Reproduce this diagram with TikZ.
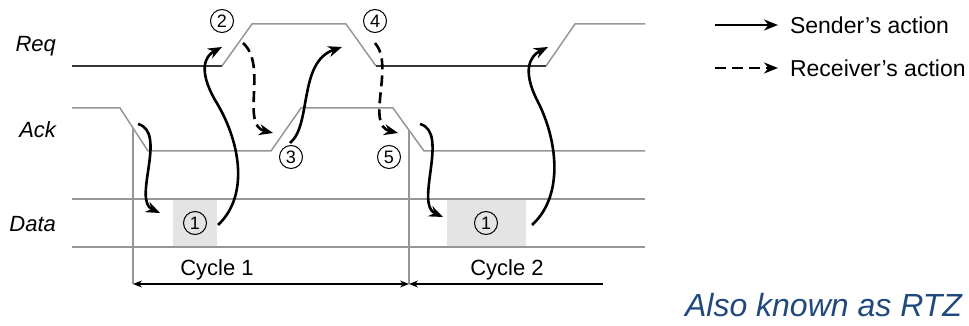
\documentclass[tikz,border=0pt]{standalone}
\usepackage{fontspec}
\setmainfont{Liberation Sans}
\usetikzlibrary{arrows.meta}
\definecolor{sigline}{RGB}{150,150,150}
\definecolor{reqlow}{RGB}{55,55,55}
\definecolor{boxfill}{RGB}{228,228,228}
\definecolor{rtzblue}{RGB}{31,73,125}

\begin{document}
\begin{tikzpicture}[x=0.5pt,y=-0.5pt,>=Stealth,
  sig/.style={sigline,line width=0.75pt},
  act/.style={line width=1.3pt,-{Stealth[length=7pt,width=5.5pt]}},
  rcv/.style={act,dash pattern=on 5.5pt off 3pt},
  num/.style={circle,draw,line width=0.5pt,inner sep=0pt,minimum size=11.5pt,
    font=\fontsize{9}{9}\selectfont},
  lbl/.style={anchor=east,font=\fontsize{11}{13}\selectfont\itshape},
  cyc/.style={line width=0.6pt,{Stealth[length=4.5pt,width=3.5pt]}-{Stealth[length=4.5pt,width=3.5pt]}},
  cycl/.style={line width=0.6pt,{Stealth[length=4.5pt,width=3.5pt]}-}]
  \useasboundingbox (0,0) rectangle (969,326);

  % signal names
  \node[lbl] (req) at (63,46) {Req};
  \node[lbl] (ack) at (63,130) {Ack};
  \node[lbl] (data) at (63,224) {Data};

  % shaded data windows
  \fill[boxfill] (173,199) rectangle (217,247);
  \fill[boxfill] (447,199) rectangle (526,247);

  % waveforms
  \draw[sig] (222,66) -- (252,24) -- (346,24) -- (376,66);
  \draw[sig] (546,66) -- (575,24) -- (645,24);
  \draw[reqlow,line width=0.75pt] (72,66) -- (222,66);
  \draw[reqlow,line width=0.75pt] (376,66) -- (546,66);
  \draw[sig] (72,108) -- (120,108) -- (148,151) -- (271,151) -- (301,108)
    -- (393,108) -- (424,151) -- (645,151);
  \draw[sig] (72,199) -- (645,199);
  \draw[sig] (72,247) -- (645,247);
  \draw[sig] (133,128) -- (133,284);
  \draw[sig] (409,130) -- (409,284);

  % cycles
  \coordinate (c1) at (133,284);
  \coordinate (c2) at (409,284);
  \coordinate (c3) at (603,284);
  \draw[cyc] (c1) -- (c2);
  \draw[cycl] (c2) -- (c3);
  \node[font=\fontsize{11}{13}\selectfont] (cyc1) at (217,270) {Cycle 1};
  \node[font=\fontsize{11}{13}\selectfont] (cyc2) at (507,270) {Cycle 2};

  % event numbers
  \node[num] (n1a) at (195,223) {1};
  \node[num] (n1b) at (486,223) {1};
  \node[num] (n2) at (222,21) {2};
  \node[num] (n4) at (375,21) {4};
  \node[num] (n3) at (291,157) {3};
  \node[num] (n5) at (389,157) {5};

  % action ends
  \coordinate (a1s) at (138,124);  \coordinate (a1e) at (160,213);
  \coordinate (a2s) at (218,225);  \coordinate (a2e) at (222,47);
  \coordinate (a3s) at (243,43);   \coordinate (a3e) at (273,133);
  \coordinate (a4s) at (290,143);  \coordinate (a4e) at (342,47);
  \coordinate (a5s) at (375,43);   \coordinate (a5e) at (398,133);
  \coordinate (a6s) at (420,124);  \coordinate (a6e) at (443,217);
  \coordinate (a7s) at (532,225);  \coordinate (a7e) at (548,47);

  \draw[act] (a1s) .. controls (168,132) and (132,200) .. (a1e);
  \draw[act] (a2s) .. controls (250,195) and (240,140) .. (215,100)
    .. controls (198,70) and (205,56) .. (a2e);
  \draw[rcv] (a3s) .. controls (268,65) and (240,125) .. (a3e);
  \draw[act] (a4s) .. controls (312,125) and (298,62) .. (a4e);
  \draw[rcv] (a5s) .. controls (395,65) and (365,125) .. (a5e);
  \draw[act] (a6s) .. controls (450,132) and (414,204) .. (a6e);
  \draw[act] (a7s) .. controls (565,195) and (557,138) .. (537,100)
    .. controls (522,70) and (530,56) .. (a7e);

  % legend
  \coordinate (l1s) at (715,25);  \coordinate (l1e) at (778,25);
  \coordinate (l2s) at (715,68);  \coordinate (l2e) at (778,68);
  \draw[act] (l1s) -- (l1e);
  \draw[rcv] (l2s) -- (l2e);
  \node[anchor=west,font=\fontsize{11.5}{14}\selectfont] (snd) at (783,25) {Sender's action};
  \node[anchor=west,font=\fontsize{11.5}{14}\selectfont] (rcvr) at (783,68) {Receiver's action};

  \node[anchor=east,text=rtzblue,font=\fontsize{16}{19}\selectfont\itshape] (rtz)
    at (969,305) {Also known as RTZ};
\end{tikzpicture}
\end{document}
